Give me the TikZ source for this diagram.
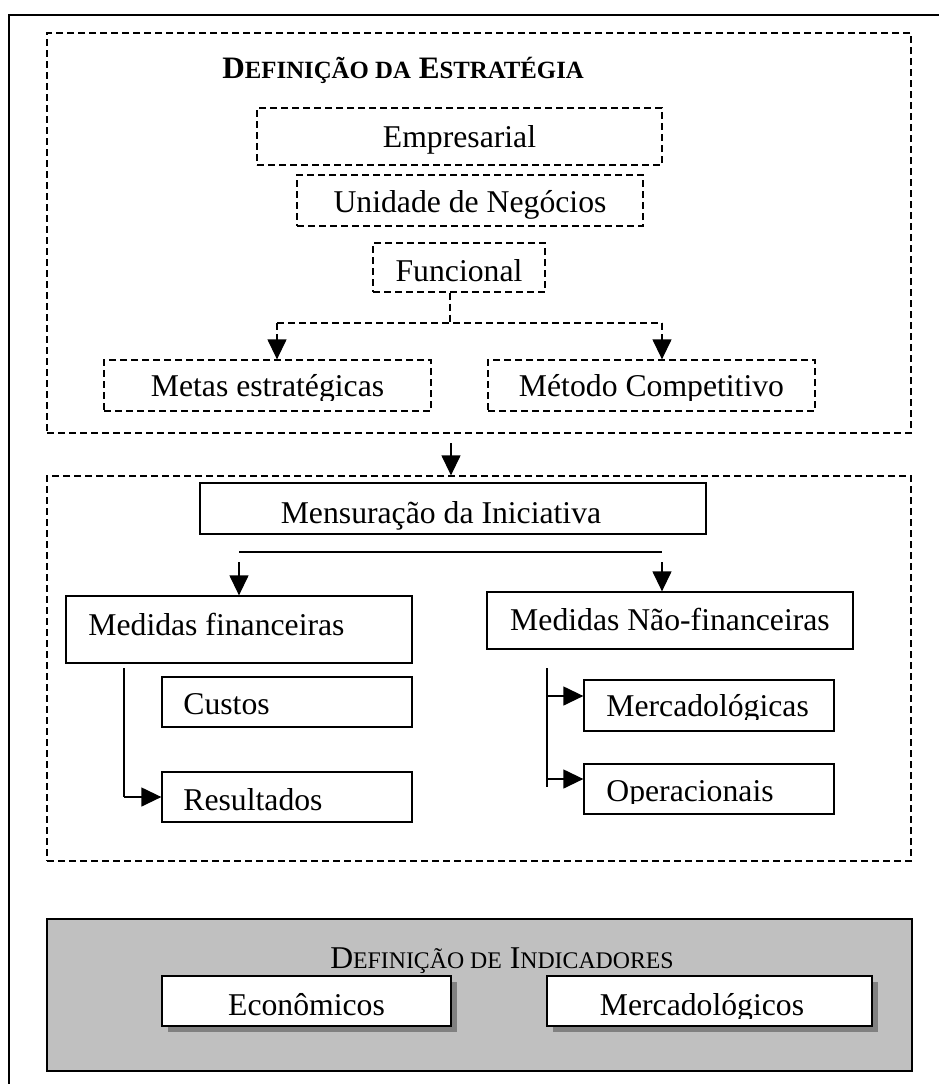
\documentclass[tikz,border=0pt]{standalone}
\usepackage{fontspec}
\setmainfont{Liberation Serif}
\usetikzlibrary{arrows.meta,shadows}
\definecolor{panelgray}{HTML}{C0C0C0}
\definecolor{shadegray}{HTML}{808080}
\newcommand{\px}{0.5pt}
% faked small capitals
\newcommand{\scb}[1]{{\fontsize{12.4}{14}\selectfont #1}}
\newcommand{\scr}[1]{{\fontsize{11.9}{14}\selectfont #1}}
\begin{document}
\begin{tikzpicture}[x=0.5pt,y=-0.5pt,
  font=\fontsize{15.85}{19}\selectfont,
  dbox/.style={draw, line width=0.65pt, dash pattern=on 3.5pt off 2pt, inner sep=0pt, text depth=0pt},
  sbox/.style={draw, line width=0.65pt, inner sep=0pt, text depth=0pt, fill=white},
  label/.style={inner sep=0pt},
  dline/.style={line width=0.65pt, dash pattern=on 3.5pt off 2pt},
  sline/.style={line width=0.65pt},
  tri/.style={-{Triangle[length=10pt,width=9.5pt]}},
  sh/.style={drop shadow={shadow xshift=3pt, shadow yshift=-3pt, fill=shadegray, opacity=1}}
]
\useasboundingbox (0,0) rectangle (939,1084);
\clip (0,0) rectangle (939,1084);

% page frame
\draw[line width=0.75pt] (9,1100) -- (9,15) -- (960,15);

% ---------- strategy panel ----------
\node[dbox, minimum width=864*\px, minimum height=400*\px] (strat) at (479,233) {};
\node[label, anchor=base west, font=\bfseries] (stitle) at (222,78)
  {\fontsize{15.6}{18}\selectfont D\scb{EFINIÇÃO DA} E\scb{STRATÉGIA}};
\node[dbox, minimum width=405*\px, minimum height=57*\px, text height=21*\px] (emp) at (459.5,136.5) {Empresarial};
\node[dbox, minimum width=346*\px, minimum height=51*\px, text height=24*\px] (uni) at (470,200.5) {Unidade de Negócios};
\node[dbox, minimum width=172*\px, minimum height=49*\px, text height=28*\px] (fun) at (459,267.5) {Funcional};
\node[dbox, minimum width=327*\px, minimum height=51*\px] (metas) at (267.5,385.5) {};
\node[dbox, minimum width=327*\px, minimum height=51*\px] (metodo) at (651.5,385.5) {};
\begin{scope}
  \clip (100,360) rectangle (820,400);
  \node[label, anchor=base] (metastxt) at (267.5,396.7) {Metas estratégicas};
  \node[label, anchor=base] (metodotxt) at (651.5,396.7) {Método Competitivo};
\end{scope}

\coordinate (fj) at (450,323);
\coordinate (fl) at (277,323);
\coordinate (fr) at (662,323);
\draw[dline] (fun.south -| fj) -- (fj);
\draw[dline] (fl) -- (fr);
\draw[dline, tri] (fl) -- (fl |- metas.north);
\draw[dline, tri] (fr) -- (fr |- metodo.north);

% ---------- measurement panel ----------
\node[dbox, minimum width=864*\px, minimum height=385*\px] (meas) at (479,668.5) {};
\coordinate (sa) at (451,443);
\draw[sline, tri] (sa) -- (sa |- meas.north);

\node[sbox, minimum width=506*\px, minimum height=51*\px] (mens) at (453,508.5) {};
\node[label, anchor=base] (menstxt) at (441,523.3) {Mensuração da Iniciativa};
\coordinate (hl) at (239,552);
\coordinate (hr) at (662,552);
\draw[sline] (hl) -- (hr);

\node[sbox, minimum width=346*\px, minimum height=67*\px] (fin) at (239,629.5) {};
\node[label, anchor=base west] (fintxt) at (88,635) {Medidas financeiras};
\node[sbox, minimum width=366*\px, minimum height=57*\px, text height=20*\px] (nfin) at (670,620.5) {Medidas Não-financeiras};
\draw[sline, tri] ([yshift=-10*\px]hl) -- (hl |- fin.north);
\draw[sline, tri] ([yshift=-10*\px]hr) -- (hr |- nfin.north);

\node[sbox, minimum width=250*\px, minimum height=50*\px] (cus) at (287,702) {};
\node[label, anchor=base west] (custxt) at (183,714) {Custos};
\node[sbox, minimum width=250*\px, minimum height=50*\px] (res) at (287,797) {};
\node[label, anchor=base west] (restxt) at (183,810) {Resultados};
\coordinate (lt) at (124,668);
\draw[sline] (lt) -- (lt |- res.west);
\draw[sline, tri] (lt |- res.west) -- (res.west);

\node[sbox, minimum width=250*\px, minimum height=51*\px] (merc) at (709,705.5) {};
\node[sbox, minimum width=250*\px, minimum height=50*\px] (oper) at (709,789) {};
\begin{scope}
  \clip (590,690) rectangle (830,719);
  \node[label, anchor=base west] (merctxt) at (606,716.7) {Mercadológicas};
\end{scope}
\begin{scope}
  \clip (590,770) rectangle (830,803);
  \node[label, anchor=base west] (opertxt) at (606,801.7) {Operacionais};
\end{scope}
\coordinate (rt) at (547,668);
\coordinate (rb) at (547,787);
\draw[sline] (rt) -- (rb);
\draw[sline, tri] (547,696) coordinate (ma) -- (ma -| merc.west);
\draw[sline, tri] (547,779) coordinate (oa) -- (oa -| oper.west);

% ---------- indicators panel ----------
\node[draw, line width=0.75pt, fill=panelgray, minimum width=865*\px, minimum height=152*\px, inner sep=0pt] (ind) at (479.5,995) {};
\node[label, anchor=base] (ititle) at (502,968)
  {D\scr{EFINIÇÃO DE} I\scr{NDICADORES}};
\node[sbox, sh, minimum width=289*\px, minimum height=50*\px, text height=29*\px] (eco) at (306.5,1001) {Econômicos};
\node[sbox, sh, minimum width=325*\px, minimum height=50*\px] (mkt) at (709.5,1001) {};
\begin{scope}
  \clip (550,980) rectangle (870,1018);
  \node[label, anchor=base] (mkttxt) at (702,1015.6) {Mercadológicos};
\end{scope}
\end{tikzpicture}
\end{document}
